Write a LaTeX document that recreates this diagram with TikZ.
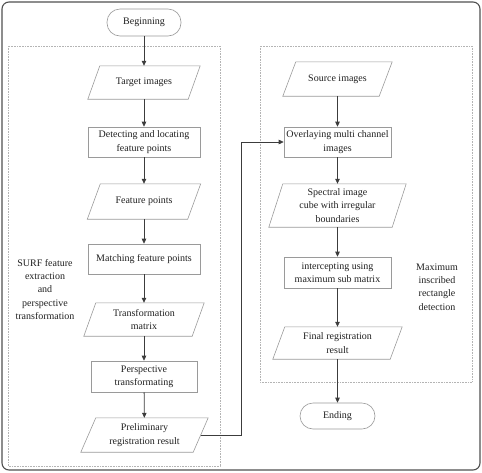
\documentclass[tikz,border=0pt]{standalone}
\usepackage{fontspec}
\setmainfont{Liberation Serif}
\usetikzlibrary{calc,arrows.meta}
\definecolor{linec}{HTML}{3C3C3C}
\definecolor{boxc}{HTML}{9A9A9A}
\definecolor{dotc}{HTML}{B4B4B4}
\definecolor{txtc}{HTML}{202020}
\newcommand{\paradraw}[2]{\draw[parab] ($(#1.south west)+(-#2,0)$) -- ($(#1.south east)+(-#2,0)$) -- ($(#1.north east)+(#2,0)$) -- ($(#1.north west)+(#2,0)$) -- cycle;}
\tikzset{
  every node/.style={font=\fontsize{10}{13.3}\selectfont, text=txtc, align=center, inner sep=0pt},
  procbox/.style={draw=boxc, line width=0.6pt, fill=white},
  termbox/.style={draw=boxc, line width=0.6pt, rounded corners=13pt, fill=white},
  paranode/.style={draw=none},
  parab/.style={draw=boxc, line width=0.6pt},
  arr/.style={draw=linec, line width=0.8pt, -{Triangle[length=5pt,width=4.5pt]}},
  grp/.style={draw=dotc, line width=0.6pt, densely dotted},
}
\begin{document}
\begin{tikzpicture}[x=1pt,y=-1pt]
\useasboundingbox (0,0) rectangle (482,472);
\draw[draw=linec!90, line width=1.1pt, rounded corners=7pt] (2,2) rectangle (480,470);
% groups
\draw[grp] (8,46) rectangle (220,466);
\draw[grp] (260,46) rectangle (472,382);
% left column
\node[termbox, minimum width=74pt, minimum height=27pt] (begin) at (144,22.5) {Beginning};
\node[paranode, minimum width=100pt, minimum height=33pt] (target) at (144,82.5) {Target images};
\node[procbox, minimum width=112pt, minimum height=30pt] (detect) at (144,142) {Detecting and locating\\feature points};
\node[paranode, minimum width=100pt, minimum height=35pt] (feat) at (144,201.5) {Feature points};
\node[procbox, minimum width=112pt, minimum height=30pt] (match) at (144,259) {Matching feature points};
\node[paranode, minimum width=108pt, minimum height=33pt] (tmat) at (144,319.5) {Transformation\\matrix};
\node[procbox, minimum width=106pt, minimum height=31pt] (persp) at (144,376.5) {Perspective\\transformating};
\node[paranode, minimum width=112pt, minimum height=34pt] (prelim) at (144.5,435) {Preliminary\\registration result};
% right column
\node[paranode, minimum width=96pt, minimum height=34pt] (source) at (337.5,79) {Source images};
\node[procbox, minimum width=107pt, minimum height=30pt] (overlay) at (337.5,142) {Overlaying multi channel\\images};
\node[paranode, minimum width=123pt, minimum height=43pt] (spectral) at (337.5,205.5) {Spectral image\\cube with irregular\\boundaries};
\node[procbox, minimum width=107pt, minimum height=31pt] (intercept) at (337.5,272.5) {intercepting using\\maximum sub matrix};
\node[paranode, minimum width=117pt, minimum height=32pt] (final) at (337.5,343) {Final registration\\result};
\node[termbox, minimum width=75pt, minimum height=26pt] (ending) at (337.5,416) {Ending};
% parallelogram outlines
\paradraw{target}{6}
\paradraw{feat}{6.5}
\paradraw{tmat}{6}
\paradraw{prelim}{7.5}
\paradraw{source}{6.5}
\paradraw{spectral}{7}
\paradraw{final}{6}
% labels
\node (surf) at (45,289.5) {SURF feature\\extraction\\and\\perspective\\transformation};
\node (maxrect) at (437,287) {Maximum\\inscribed\\rectangle\\detection};
% arrows
\draw[arr] (begin) -- (target);
\draw[arr] (target) -- (detect);
\draw[arr] (detect) -- (feat);
\draw[arr] (feat) -- (match);
\draw[arr] (match) -- (tmat);
\draw[arr] (tmat) -- (persp);
\draw[arr] (persp) -- (prelim);
\coordinate (bend) at (241,142);
\draw[arr] (prelim.east) -| (bend) -- (overlay.west);
\draw[arr] (source) -- (overlay);
\draw[arr] (overlay) -- (spectral);
\draw[arr] (spectral) -- (intercept);
\draw[arr] (intercept) -- (final);
\draw[arr] (final) -- (ending);
\end{tikzpicture}
\end{document}
